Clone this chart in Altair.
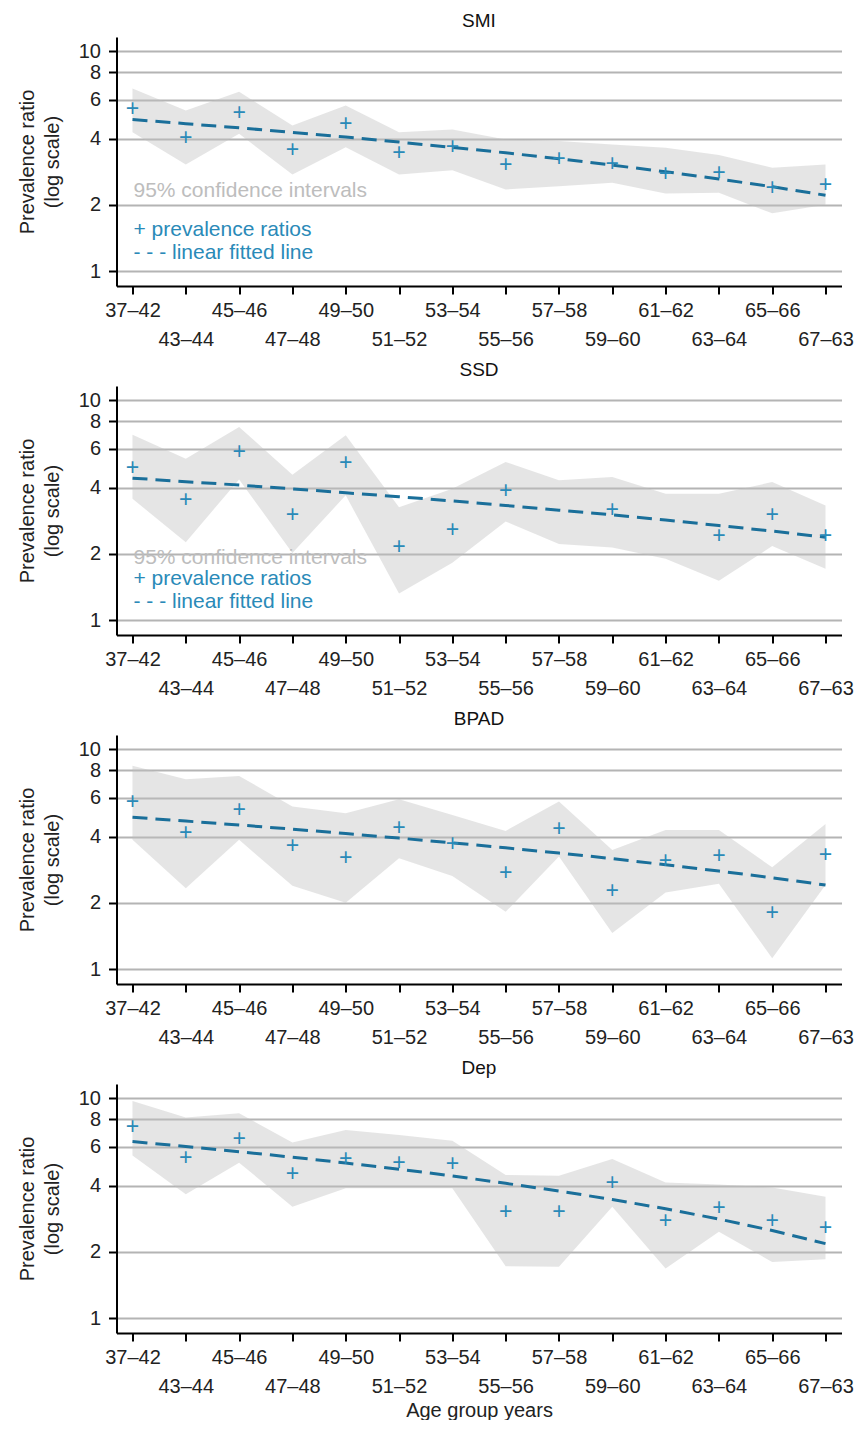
import altair as alt
import pandas as pd

AGE_GROUPS = ["37–42", "43–44", "45–46", "47–48", "49–50", "51–52", "53–54",
              "55–56", "57–58", "59–60", "61–62", "63–64", "65–66", "67–63"]

PANELS = ["SMI", "SSD", "BPAD", "Dep"]

SMI_PR = [5.43, 4.01, 5.24, 3.54, 4.64, 3.45, 3.66, 3.05, 3.22, 3.07, 2.77, 2.80, 2.38, 2.46]
SMI_LO = [4.28, 3.05, 4.21, 2.75, 3.66, 2.75, 2.87, 2.35, 2.43, 2.52, 2.25, 2.27, 1.83, 2.00]
SMI_HI = [6.77, 5.37, 6.53, 4.59, 5.66, 4.28, 4.40, 3.97, 3.90, 3.76, 3.64, 3.37, 2.95, 3.05]
SMI_FIT = [4.89, 4.68, 4.48, 4.27, 4.07, 3.86, 3.65, 3.45, 3.24, 3.03, 2.83, 2.62, 2.42, 2.21]

SSD_PR = [4.92, 3.50, 5.81, 2.99, 5.20, 2.14, 2.58, 3.85, None, 3.15, None, 2.40, 2.99, 2.41]
SSD_LO = [3.56, 2.26, 4.36, 2.02, 3.69, 1.32, 1.82, 2.81, 2.22, 2.14, 1.90, 1.51, 2.17, 1.71]
SSD_HI = [6.97, 5.42, 7.56, 4.58, 6.93, 3.26, 3.96, 5.23, 4.32, 4.47, 3.75, 3.75, 4.24, 3.32]
SSD_FIT = [4.42, 4.26, 4.11, 3.95, 3.79, 3.64, 3.48, 3.32, 3.16, 3.01, 2.85, 2.69, 2.54, 2.38]

BPAD_PR = [5.78, 4.15, 5.30, 3.63, 3.21, 4.37, 3.69, 2.74, 4.34, 2.26, 3.11, 3.27, 1.80, 3.30]
BPAD_LO = [3.87, 2.33, 3.87, 2.39, 2.00, 3.19, 2.65, 1.82, 3.25, 1.46, 2.23, 2.44, 1.12, 2.41]
BPAD_HI = [8.40, 7.30, 7.56, 5.48, 5.11, 5.92, 5.02, 4.25, 5.78, 3.48, 4.29, 4.29, 2.90, 4.57]
BPAD_FIT = [4.90, 4.71, 4.52, 4.33, 4.13, 3.94, 3.75, 3.56, 3.37, 3.18, 2.98, 2.79, 2.60, 2.41]

DEP_PR = [7.43, 5.36, 6.50, 4.52, 5.29, 5.05, 5.00, 3.04, 3.04, 4.10, 2.77, 3.18, 2.77, 2.58]
DEP_LO = [5.48, 3.66, 5.09, 3.21, 3.89, 3.89, 3.89, 1.72, 1.71, 3.21, 1.68, 2.47, 1.80, 1.85]
DEP_HI = [9.72, 8.16, 8.54, 6.28, 7.17, 6.80, 6.41, 4.47, 4.44, 5.29, 4.13, 4.05, 3.92, 3.56]
DEP_FIT = [6.35, 6.03, 5.71, 5.39, 5.07, 4.75, 4.43, 4.10, 3.78, 3.46, 3.14, 2.82, 2.50, 2.18]

Y_TICKS = [1, 2, 4, 6, 8, 10]

LEGEND_CI = "95% confidence intervals"
LEGEND_PR = "+ prevalence ratios"
LEGEND_FIT = "- - - linear fitted line"

FONT = "Liberation Sans"
BLUE_PT = "#2a8ab8"
BLUE_LINE = "#1a6f9a"

W, H = 725, 249

label_list = "[" + ",".join("'" + s + "'" for s in AGE_GROUPS) + "]"
label_expr = f"datum.value % 2 == 1 ? ['', {label_list}[datum.value]] : {label_list}[datum.value]"


def panel(name, pr, lo, hi, fit, legend_y=None, last=False):
    df = pd.DataFrame({"i": list(range(len(AGE_GROUPS))), "age": AGE_GROUPS,
                       "pr": pr, "lo": lo, "hi": hi, "fit": fit})
    xs = alt.Scale(domain=[-0.3, 13.3], nice=False, zero=False)
    ys = alt.Scale(type="log", domain=[0.855, 11.6], nice=False)
    x_axis = alt.Axis(values=list(range(14)), labelExpr=label_expr, grid=False,
                      labelOverlap=False, labelFlush=False, labelBaseline="top",
                      labelLineHeight=29, labelPadding=6, tickSize=8,
                      title="Age group years" if last else None, titlePadding=4)
    y_axis = alt.Axis(values=Y_TICKS, format="d", grid=True, gridColor="#b4b4b4",
                      gridWidth=2, tickSize=8, labelPadding=8,
                      title=["Prevalence ratio", "(log scale)"], titleLineHeight=25,
                      titlePadding=16)
    base = alt.Chart(df)
    band = base.mark_area(color="#bfbfbf", opacity=0.4).encode(
        x=alt.X("i:Q", scale=xs, axis=x_axis),
        y=alt.Y("lo:Q", scale=ys, axis=y_axis),
        y2="hi:Q",
    )
    line = base.mark_line(color=BLUE_LINE, strokeDash=[15, 8], strokeWidth=3).encode(
        x=alt.X("i:Q", scale=xs), y=alt.Y("fit:Q", scale=ys))
    pts = base.transform_filter("isValid(datum.pr)").mark_text(
        text="+", color=BLUE_PT, fontSize=23, font=FONT, baseline="middle").encode(
        x=alt.X("i:Q", scale=xs), y=alt.Y("pr:Q", scale=ys))
    layers = [band, line, pts]
    if legend_y is not None:
        leg = pd.DataFrame({"t": [LEGEND_CI, LEGEND_PR, LEGEND_FIT],
                            "c": ["#bdbdbd", BLUE_PT, BLUE_PT]})
        for k, (t, col) in enumerate(zip(leg["t"], leg["c"])):
            layers.append(alt.Chart(leg.iloc[[k]]).mark_text(
                align="left", baseline="middle", fontSize=21, font=FONT, color=col
            ).encode(text="t:N", x=alt.value(17), y=alt.value(legend_y[k])))
    return alt.layer(*layers).properties(
        width=W, height=H,
        title=alt.TitleParams(name, fontSize=19, font=FONT, fontWeight="normal",
                              anchor="middle", offset=6, color="#111"))


charts = [
    panel("SMI", SMI_PR, SMI_LO, SMI_HI, SMI_FIT, legend_y=[154, 193, 216]),
    panel("SSD", SSD_PR, SSD_LO, SSD_HI, SSD_FIT, legend_y=[172, 193, 216]),
    panel("BPAD", BPAD_PR, BPAD_LO, BPAD_HI, BPAD_FIT),
    panel("Dep", DEP_PR, DEP_LO, DEP_HI, DEP_FIT, last=True),
]

chart = alt.vconcat(*charts, spacing=12).properties(
    padding={"left": 8.5, "top": 4, "right": 0, "bottom": 0}
).configure_view(stroke=None).configure_axis(
    domainColor="#000", domainWidth=2, tickColor="#000", tickWidth=2,
    labelFont=FONT, labelFontSize=20, labelColor="#222",
    titleFont=FONT, titleFontSize=20, titleFontWeight="normal", titleColor="#222",
)

chart.save("out.html", embed_options={"renderer": "svg", "actions": False})
